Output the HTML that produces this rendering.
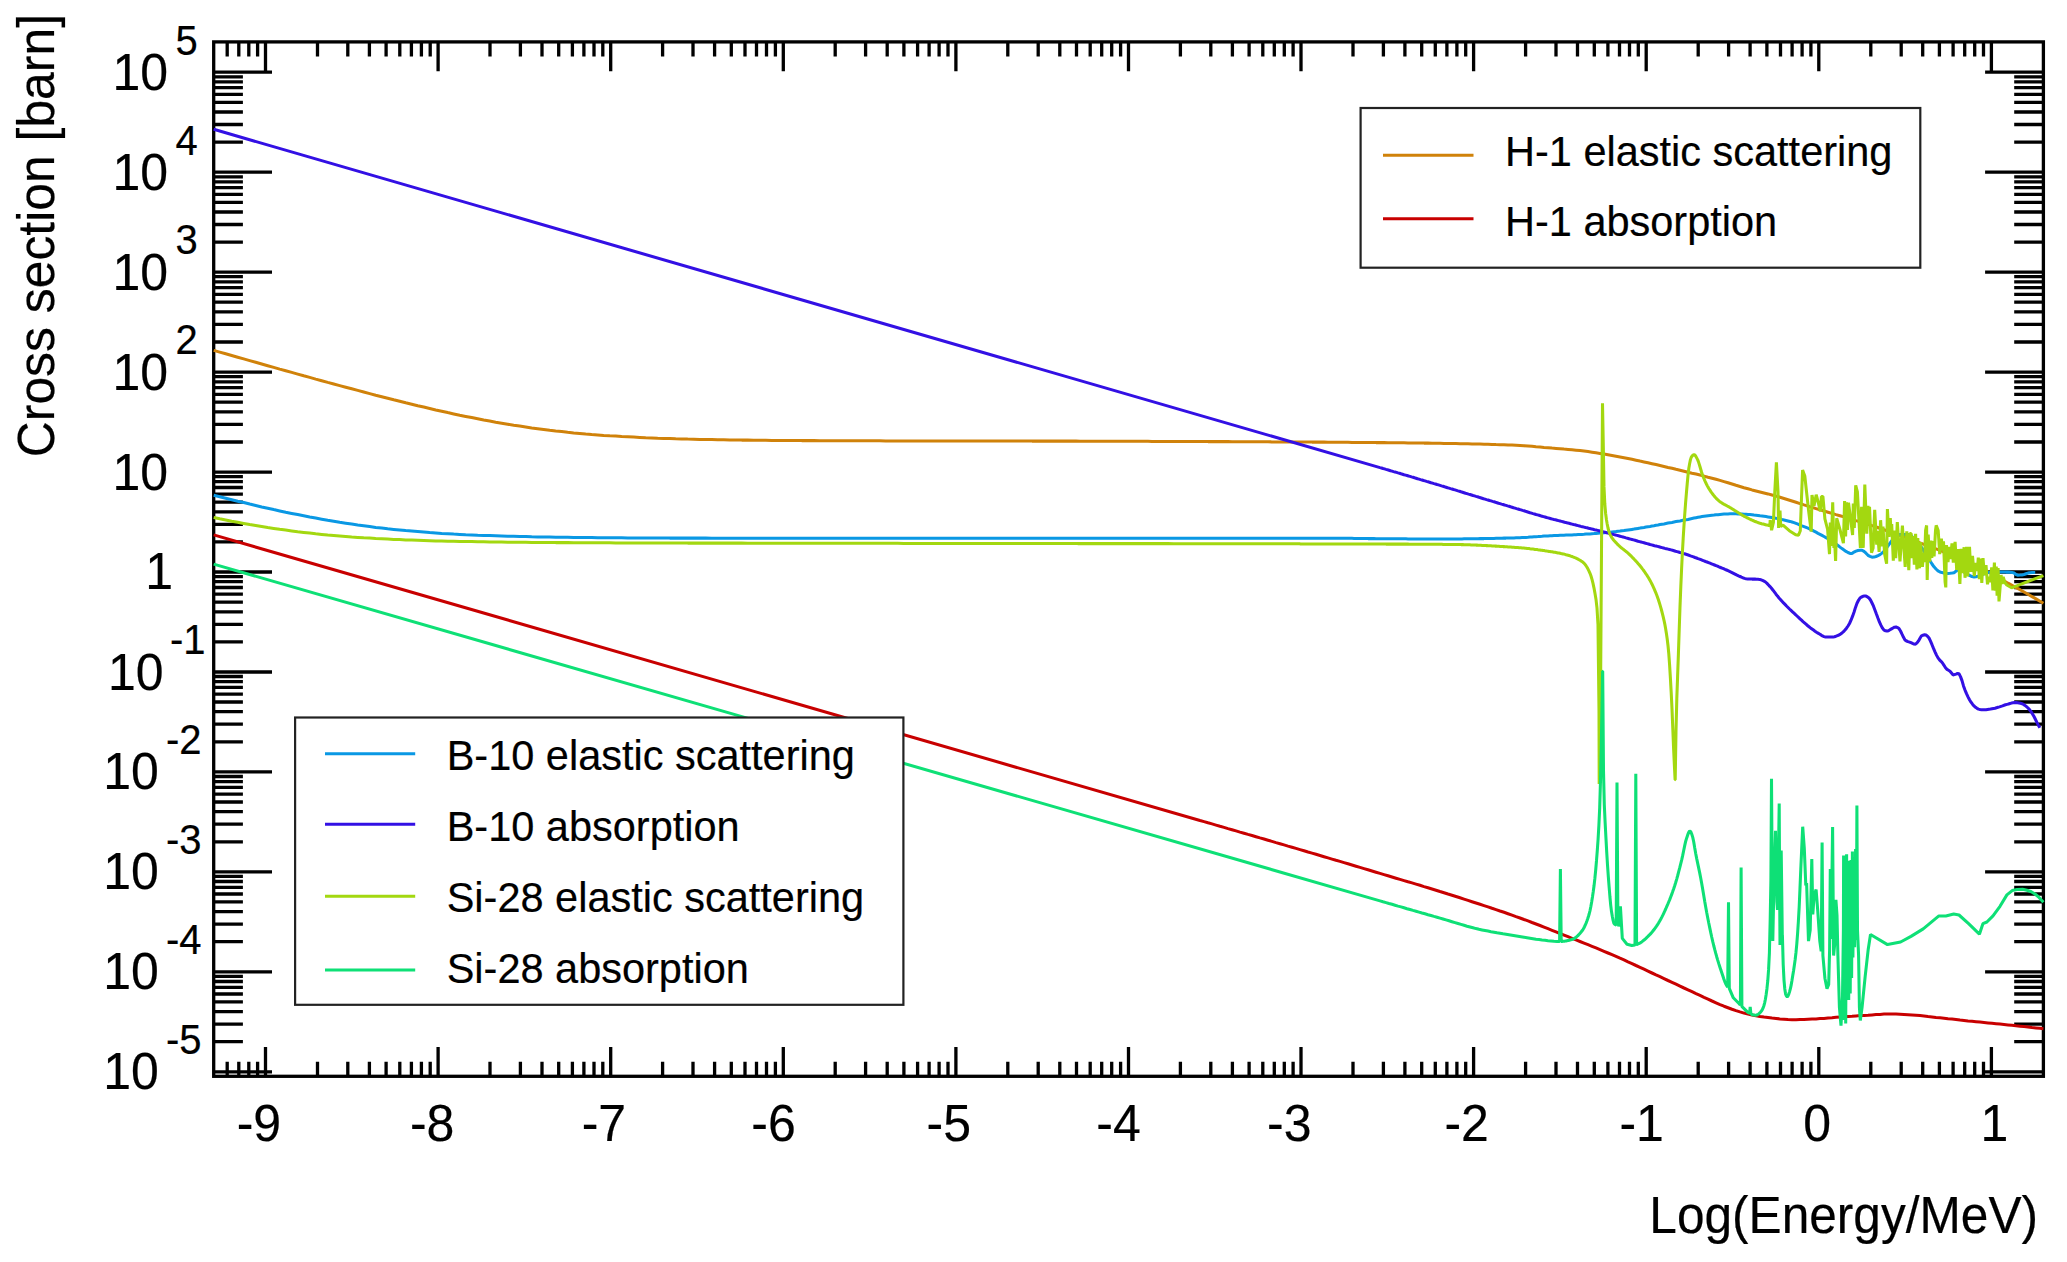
<!DOCTYPE html>
<html lang="en"><head><meta charset="utf-8"><title>Neutron cross sections</title>
<style>html,body{margin:0;padding:0;background:#fff}svg{display:block}</style></head><body>
<svg width="2067" height="1262" viewBox="0 0 2067 1262">
<rect width="2067" height="1262" fill="#fff"/>
<g stroke="#000" stroke-width="3.3" fill="none" stroke-linecap="butt">
<rect x="213.7" y="41.9" width="1829.7" height="1034.4"/>
<path d="M227.2 1076.3v-14.6M227.2 41.9v14.6M238.8 1076.3v-14.6M238.8 41.9v14.6M248.8 1076.3v-14.6M248.8 41.9v14.6M257.6 1076.3v-14.6M257.6 41.9v14.6M265.5 1076.3v-29.4M265.5 41.9v29.4M317.5 1076.3v-14.6M317.5 41.9v14.6M347.8 1076.3v-14.6M347.8 41.9v14.6M369.4 1076.3v-14.6M369.4 41.9v14.6M386.1 1076.3v-14.6M386.1 41.9v14.6M399.8 1076.3v-14.6M399.8 41.9v14.6M411.4 1076.3v-14.6M411.4 41.9v14.6M421.4 1076.3v-14.6M421.4 41.9v14.6M430.2 1076.3v-14.6M430.2 41.9v14.6M438.1 1076.3v-29.4M438.1 41.9v29.4M490.0 1076.3v-14.6M490.0 41.9v14.6M520.4 1076.3v-14.6M520.4 41.9v14.6M542.0 1076.3v-14.6M542.0 41.9v14.6M558.7 1076.3v-14.6M558.7 41.9v14.6M572.4 1076.3v-14.6M572.4 41.9v14.6M583.9 1076.3v-14.6M583.9 41.9v14.6M594.0 1076.3v-14.6M594.0 41.9v14.6M602.8 1076.3v-14.6M602.8 41.9v14.6M610.7 1076.3v-29.4M610.7 41.9v29.4M662.6 1076.3v-14.6M662.6 41.9v14.6M693.0 1076.3v-14.6M693.0 41.9v14.6M714.6 1076.3v-14.6M714.6 41.9v14.6M731.3 1076.3v-14.6M731.3 41.9v14.6M745.0 1076.3v-14.6M745.0 41.9v14.6M756.5 1076.3v-14.6M756.5 41.9v14.6M766.5 1076.3v-14.6M766.5 41.9v14.6M775.4 1076.3v-14.6M775.4 41.9v14.6M783.3 1076.3v-29.4M783.3 41.9v29.4M835.2 1076.3v-14.6M835.2 41.9v14.6M865.6 1076.3v-14.6M865.6 41.9v14.6M887.2 1076.3v-14.6M887.2 41.9v14.6M903.9 1076.3v-14.6M903.9 41.9v14.6M917.6 1076.3v-14.6M917.6 41.9v14.6M929.1 1076.3v-14.6M929.1 41.9v14.6M939.1 1076.3v-14.6M939.1 41.9v14.6M948.0 1076.3v-14.6M948.0 41.9v14.6M955.9 1076.3v-29.4M955.9 41.9v29.4M1007.8 1076.3v-14.6M1007.8 41.9v14.6M1038.2 1076.3v-14.6M1038.2 41.9v14.6M1059.8 1076.3v-14.6M1059.8 41.9v14.6M1076.5 1076.3v-14.6M1076.5 41.9v14.6M1090.2 1076.3v-14.6M1090.2 41.9v14.6M1101.7 1076.3v-14.6M1101.7 41.9v14.6M1111.7 1076.3v-14.6M1111.7 41.9v14.6M1120.6 1076.3v-14.6M1120.6 41.9v14.6M1128.5 1076.3v-29.4M1128.5 41.9v29.4M1180.4 1076.3v-14.6M1180.4 41.9v14.6M1210.8 1076.3v-14.6M1210.8 41.9v14.6M1232.4 1076.3v-14.6M1232.4 41.9v14.6M1249.1 1076.3v-14.6M1249.1 41.9v14.6M1262.8 1076.3v-14.6M1262.8 41.9v14.6M1274.3 1076.3v-14.6M1274.3 41.9v14.6M1284.3 1076.3v-14.6M1284.3 41.9v14.6M1293.1 1076.3v-14.6M1293.1 41.9v14.6M1301.0 1076.3v-29.4M1301.0 41.9v29.4M1353.0 1076.3v-14.6M1353.0 41.9v14.6M1383.4 1076.3v-14.6M1383.4 41.9v14.6M1404.9 1076.3v-14.6M1404.9 41.9v14.6M1421.7 1076.3v-14.6M1421.7 41.9v14.6M1435.3 1076.3v-14.6M1435.3 41.9v14.6M1446.9 1076.3v-14.6M1446.9 41.9v14.6M1456.9 1076.3v-14.6M1456.9 41.9v14.6M1465.7 1076.3v-14.6M1465.7 41.9v14.6M1473.6 1076.3v-29.4M1473.6 41.9v29.4M1525.6 1076.3v-14.6M1525.6 41.9v14.6M1556.0 1076.3v-14.6M1556.0 41.9v14.6M1577.5 1076.3v-14.6M1577.5 41.9v14.6M1594.3 1076.3v-14.6M1594.3 41.9v14.6M1607.9 1076.3v-14.6M1607.9 41.9v14.6M1619.5 1076.3v-14.6M1619.5 41.9v14.6M1629.5 1076.3v-14.6M1629.5 41.9v14.6M1638.3 1076.3v-14.6M1638.3 41.9v14.6M1646.2 1076.3v-29.4M1646.2 41.9v29.4M1698.2 1076.3v-14.6M1698.2 41.9v14.6M1728.6 1076.3v-14.6M1728.6 41.9v14.6M1750.1 1076.3v-14.6M1750.1 41.9v14.6M1766.9 1076.3v-14.6M1766.9 41.9v14.6M1780.5 1076.3v-14.6M1780.5 41.9v14.6M1792.1 1076.3v-14.6M1792.1 41.9v14.6M1802.1 1076.3v-14.6M1802.1 41.9v14.6M1810.9 1076.3v-14.6M1810.9 41.9v14.6M1818.8 1076.3v-29.4M1818.8 41.9v29.4M1870.8 1076.3v-14.6M1870.8 41.9v14.6M1901.2 1076.3v-14.6M1901.2 41.9v14.6M1922.7 1076.3v-14.6M1922.7 41.9v14.6M1939.4 1076.3v-14.6M1939.4 41.9v14.6M1953.1 1076.3v-14.6M1953.1 41.9v14.6M1964.7 1076.3v-14.6M1964.7 41.9v14.6M1974.7 1076.3v-14.6M1974.7 41.9v14.6M1983.5 1076.3v-14.6M1983.5 41.9v14.6M1991.4 1076.3v-29.4M1991.4 41.9v29.4M213.7 1071.8h58.3M2043.4 1071.8h-58.3M213.7 1041.7h29.2M2043.4 1041.7h-29.2M213.7 1024.1h29.2M2043.4 1024.1h-29.2M213.7 1011.6h29.2M2043.4 1011.6h-29.2M213.7 1001.9h29.2M2043.4 1001.9h-29.2M213.7 994.0h29.2M2043.4 994.0h-29.2M213.7 987.3h29.2M2043.4 987.3h-29.2M213.7 981.5h29.2M2043.4 981.5h-29.2M213.7 976.4h29.2M2043.4 976.4h-29.2M213.7 971.8h58.3M2043.4 971.8h-58.3M213.7 941.7h29.2M2043.4 941.7h-29.2M213.7 924.1h29.2M2043.4 924.1h-29.2M213.7 911.6h29.2M2043.4 911.6h-29.2M213.7 901.9h29.2M2043.4 901.9h-29.2M213.7 894.0h29.2M2043.4 894.0h-29.2M213.7 887.3h29.2M2043.4 887.3h-29.2M213.7 881.5h29.2M2043.4 881.5h-29.2M213.7 876.4h29.2M2043.4 876.4h-29.2M213.7 871.9h58.3M2043.4 871.9h-58.3M213.7 841.8h29.2M2043.4 841.8h-29.2M213.7 824.2h29.2M2043.4 824.2h-29.2M213.7 811.7h29.2M2043.4 811.7h-29.2M213.7 802.0h29.2M2043.4 802.0h-29.2M213.7 794.1h29.2M2043.4 794.1h-29.2M213.7 787.4h29.2M2043.4 787.4h-29.2M213.7 781.6h29.2M2043.4 781.6h-29.2M213.7 776.5h29.2M2043.4 776.5h-29.2M213.7 771.9h58.3M2043.4 771.9h-58.3M213.7 741.8h29.2M2043.4 741.8h-29.2M213.7 724.2h29.2M2043.4 724.2h-29.2M213.7 711.7h29.2M2043.4 711.7h-29.2M213.7 702.0h29.2M2043.4 702.0h-29.2M213.7 694.1h29.2M2043.4 694.1h-29.2M213.7 687.4h29.2M2043.4 687.4h-29.2M213.7 681.6h29.2M2043.4 681.6h-29.2M213.7 676.5h29.2M2043.4 676.5h-29.2M213.7 672.0h58.3M2043.4 672.0h-58.3M213.7 641.9h29.2M2043.4 641.9h-29.2M213.7 624.3h29.2M2043.4 624.3h-29.2M213.7 611.8h29.2M2043.4 611.8h-29.2M213.7 602.1h29.2M2043.4 602.1h-29.2M213.7 594.2h29.2M2043.4 594.2h-29.2M213.7 587.5h29.2M2043.4 587.5h-29.2M213.7 581.7h29.2M2043.4 581.7h-29.2M213.7 576.6h29.2M2043.4 576.6h-29.2M213.7 572.0h58.3M2043.4 572.0h-58.3M213.7 541.9h29.2M2043.4 541.9h-29.2M213.7 524.3h29.2M2043.4 524.3h-29.2M213.7 511.8h29.2M2043.4 511.8h-29.2M213.7 502.1h29.2M2043.4 502.1h-29.2M213.7 494.2h29.2M2043.4 494.2h-29.2M213.7 487.5h29.2M2043.4 487.5h-29.2M213.7 481.7h29.2M2043.4 481.7h-29.2M213.7 476.6h29.2M2043.4 476.6h-29.2M213.7 472.1h58.3M2043.4 472.1h-58.3M213.7 442.0h29.2M2043.4 442.0h-29.2M213.7 424.4h29.2M2043.4 424.4h-29.2M213.7 411.9h29.2M2043.4 411.9h-29.2M213.7 402.2h29.2M2043.4 402.2h-29.2M213.7 394.3h29.2M2043.4 394.3h-29.2M213.7 387.6h29.2M2043.4 387.6h-29.2M213.7 381.8h29.2M2043.4 381.8h-29.2M213.7 376.7h29.2M2043.4 376.7h-29.2M213.7 372.1h58.3M2043.4 372.1h-58.3M213.7 342.0h29.2M2043.4 342.0h-29.2M213.7 324.4h29.2M2043.4 324.4h-29.2M213.7 311.9h29.2M2043.4 311.9h-29.2M213.7 302.2h29.2M2043.4 302.2h-29.2M213.7 294.3h29.2M2043.4 294.3h-29.2M213.7 287.6h29.2M2043.4 287.6h-29.2M213.7 281.8h29.2M2043.4 281.8h-29.2M213.7 276.7h29.2M2043.4 276.7h-29.2M213.7 272.1h58.3M2043.4 272.1h-58.3M213.7 242.1h29.2M2043.4 242.1h-29.2M213.7 224.5h29.2M2043.4 224.5h-29.2M213.7 212.0h29.2M2043.4 212.0h-29.2M213.7 202.3h29.2M2043.4 202.3h-29.2M213.7 194.4h29.2M2043.4 194.4h-29.2M213.7 187.7h29.2M2043.4 187.7h-29.2M213.7 181.9h29.2M2043.4 181.9h-29.2M213.7 176.8h29.2M2043.4 176.8h-29.2M213.7 172.2h58.3M2043.4 172.2h-58.3M213.7 142.1h29.2M2043.4 142.1h-29.2M213.7 124.5h29.2M2043.4 124.5h-29.2M213.7 112.0h29.2M2043.4 112.0h-29.2M213.7 102.3h29.2M2043.4 102.3h-29.2M213.7 94.4h29.2M2043.4 94.4h-29.2M213.7 87.7h29.2M2043.4 87.7h-29.2M213.7 81.9h29.2M2043.4 81.9h-29.2M213.7 76.8h29.2M2043.4 76.8h-29.2M213.7 72.2h58.3M2043.4 72.2h-58.3"/>
</g>
<clipPath id="cp"><rect x="212.2" y="41.9" width="1832.7" height="1034.4"/></clipPath>
<g fill="none" stroke-width="3.05" stroke-linejoin="bevel" stroke-linecap="butt" clip-path="url(#cp)">
<path stroke="#d0820a" d="M213.7 350.4L219.7 352.1L225.7 353.8L231.7 355.5L237.7 357.2L243.7 358.9L249.7 360.6L255.7 362.3L261.7 364.0L267.7 365.7L273.7 367.4L279.7 369.1L285.7 370.7L291.7 372.4L297.7 374.1L303.7 375.8L309.7 377.4L315.7 379.1L321.7 380.7L327.7 382.4L333.7 384.0L339.7 385.6L345.7 387.2L351.7 388.8L357.7 390.4L363.7 392.0L369.7 393.6L375.7 395.2L381.7 396.7L387.7 398.2L393.7 399.8L399.7 401.3L405.7 402.8L411.7 404.2L417.7 405.7L423.7 407.1L429.7 408.5L435.7 409.9L441.7 411.2L447.7 412.6L453.7 413.9L459.7 415.2L465.7 416.4L471.7 417.6L477.7 418.8L483.7 420.0L489.7 421.1L495.7 422.2L501.7 423.2L507.7 424.2L513.7 425.2L519.7 426.1L525.7 427.0L531.7 427.9L537.7 428.7L543.7 429.5L549.7 430.3L555.7 431.0L561.7 431.6L567.7 432.3L573.7 432.9L579.7 433.4L585.7 434.0L591.7 434.5L597.7 434.9L603.7 435.4L609.7 435.8L615.7 436.1L621.7 436.5L627.7 436.8L633.7 437.1L639.7 437.4L645.7 437.7L651.7 437.9L657.7 438.2L663.7 438.4L669.7 438.6L675.7 438.8L681.7 438.9L687.7 439.1L693.7 439.2L699.7 439.4L705.7 439.5L711.7 439.6L717.7 439.7L723.7 439.8L729.7 439.9L735.7 440.0L741.7 440.1L747.7 440.1L753.7 440.2L759.7 440.3L765.7 440.3L771.7 440.4L777.7 440.4L783.7 440.5L789.7 440.5L795.7 440.5L801.7 440.6L807.7 440.6L813.7 440.6L819.7 440.7L825.7 440.7L831.7 440.7L837.7 440.7L843.7 440.8L849.7 440.8L855.7 440.8L861.7 440.8L867.7 440.8L873.7 440.8L879.7 440.8L885.7 440.9L891.7 440.9L897.7 440.9L903.7 440.9L909.7 440.9L915.7 440.9L921.7 440.9L927.7 440.9L933.7 440.9L939.7 440.9L945.7 440.9L951.7 440.9L957.7 440.9L963.7 441.0L969.7 441.0L975.7 441.0L981.7 441.0L987.7 441.0L993.7 441.0L999.7 441.0L1000.0 441.0L1004.0 441.0L1008.0 441.0L1012.0 441.0L1016.0 441.0L1020.0 441.0L1024.0 441.0L1028.0 441.0L1032.0 441.1L1036.0 441.1L1040.0 441.1L1044.0 441.1L1048.0 441.1L1052.0 441.1L1056.0 441.1L1060.0 441.1L1064.0 441.1L1068.0 441.1L1072.0 441.1L1076.0 441.1L1080.0 441.2L1084.0 441.2L1088.0 441.2L1092.0 441.2L1096.0 441.2L1100.0 441.2L1104.0 441.2L1108.0 441.2L1112.0 441.2L1116.0 441.2L1120.0 441.3L1124.0 441.3L1128.0 441.3L1132.0 441.3L1136.0 441.3L1140.0 441.3L1144.0 441.3L1148.0 441.3L1152.0 441.4L1156.0 441.4L1160.0 441.4L1164.0 441.4L1168.0 441.4L1172.0 441.4L1176.0 441.4L1180.0 441.4L1184.0 441.5L1188.0 441.5L1192.0 441.5L1196.0 441.5L1200.0 441.5L1204.0 441.5L1208.0 441.6L1212.0 441.6L1216.0 441.6L1220.0 441.6L1224.0 441.6L1228.0 441.6L1232.0 441.7L1236.0 441.7L1240.0 441.7L1244.0 441.7L1248.0 441.7L1252.0 441.8L1256.0 441.8L1260.0 441.8L1264.0 441.8L1268.0 441.8L1272.0 441.9L1276.0 441.9L1280.0 441.9L1284.0 441.9L1288.0 441.9L1292.0 442.0L1296.0 442.0L1300.0 442.0L1304.0 442.0L1308.0 442.0L1312.0 442.1L1316.0 442.1L1320.0 442.1L1324.0 442.1L1328.0 442.2L1332.0 442.2L1336.0 442.2L1340.0 442.3L1344.0 442.3L1348.0 442.3L1352.0 442.4L1356.0 442.4L1360.0 442.4L1364.0 442.5L1368.0 442.5L1372.0 442.5L1376.0 442.6L1380.0 442.6L1384.0 442.6L1388.0 442.7L1392.0 442.7L1396.0 442.8L1400.0 442.8L1404.0 442.8L1408.0 442.9L1412.0 442.9L1416.0 443.0L1420.0 443.0L1424.0 443.1L1428.0 443.1L1432.0 443.2L1436.0 443.3L1440.0 443.3L1444.0 443.4L1448.0 443.5L1452.0 443.5L1456.0 443.6L1460.0 443.7L1464.0 443.8L1468.0 443.8L1472.0 443.9L1476.0 444.0L1480.0 444.1L1484.0 444.2L1488.0 444.3L1492.0 444.4L1496.0 444.6L1500.0 444.7L1504.0 444.8L1508.0 445.0L1512.0 445.1L1516.0 445.3L1520.0 445.5L1524.0 445.7L1528.0 446.0L1532.0 446.3L1536.0 446.7L1540.0 447.0L1544.0 447.4L1548.0 447.7L1552.0 448.1L1556.0 448.4L1560.0 448.7L1564.0 449.1L1568.0 449.4L1572.0 449.8L1576.0 450.2L1580.0 450.6L1584.0 451.1L1588.0 451.6L1592.0 452.2L1596.0 452.8L1600.0 453.4L1604.0 454.1L1608.0 454.8L1612.0 455.5L1616.0 456.2L1620.0 456.9L1624.0 457.7L1628.0 458.5L1632.0 459.3L1636.0 460.2L1640.0 461.1L1644.0 461.9L1648.0 462.8L1652.0 463.7L1656.0 464.6L1660.0 465.5L1664.0 466.4L1668.0 467.4L1672.0 468.3L1676.0 469.3L1680.0 470.2L1684.0 471.2L1688.0 472.2L1692.0 473.2L1696.0 474.1L1700.0 475.1L1704.0 476.1L1708.0 477.2L1712.0 478.2L1716.0 479.3L1720.0 480.4L1724.0 481.6L1728.0 482.8L1732.0 484.0L1736.0 485.3L1740.0 486.5L1744.0 487.7L1748.0 488.8L1752.0 489.9L1756.0 490.9L1760.0 491.9L1764.0 492.9L1768.0 493.9L1772.0 495.0L1776.0 496.1L1780.0 497.3L1784.0 498.5L1788.0 499.7L1792.0 501.0L1796.0 502.3L1800.0 503.6L1804.0 504.9L1808.0 506.1L1812.0 507.4L1816.0 508.6L1820.0 509.8L1824.0 511.0L1828.0 512.2L1832.0 513.4L1836.0 514.6L1840.0 515.7L1844.0 516.9L1848.0 518.1L1852.0 519.3L1856.0 520.6L1860.0 521.8L1864.0 523.1L1868.0 524.3L1872.0 525.6L1876.0 526.9L1880.0 528.3L1884.0 529.7L1888.0 531.1L1892.0 532.5L1896.0 534.0L1900.0 535.5L1904.0 536.9L1908.0 538.4L1912.0 539.9L1916.0 541.4L1920.0 542.9L1924.0 544.4L1928.0 545.9L1932.0 547.4L1936.0 548.9L1940.0 550.4L1944.0 552.0L1948.0 553.7L1952.0 555.4L1956.0 557.0L1960.0 558.7L1964.0 560.5L1968.0 562.3L1972.0 564.1L1976.0 565.9L1980.0 567.8L1984.0 569.8L1988.0 571.8L1992.0 573.9L1996.0 576.2L2000.0 578.5L2004.0 580.9L2008.0 583.2L2012.0 585.4L2016.0 587.6L2020.0 589.7L2024.0 592.0L2028.0 594.3L2032.0 596.6L2036.0 598.9L2040.0 601.3L2043.4 603.3"/>
<path stroke="#c80000" d="M213.7 534.9L1200.0 820.5L1204.0 821.6L1208.0 822.8L1212.0 823.9L1216.0 825.1L1220.0 826.3L1224.0 827.4L1228.0 828.6L1232.0 829.7L1236.0 830.9L1240.0 832.1L1244.0 833.2L1248.0 834.4L1252.0 835.5L1256.0 836.7L1260.0 837.9L1264.0 839.0L1268.0 840.2L1272.0 841.4L1276.0 842.6L1280.0 843.7L1284.0 844.9L1288.0 846.1L1292.0 847.2L1296.0 848.4L1300.0 849.6L1304.0 850.8L1308.0 852.0L1312.0 853.1L1316.0 854.3L1320.0 855.5L1324.0 856.7L1328.0 857.9L1332.0 859.1L1336.0 860.3L1340.0 861.4L1344.0 862.6L1348.0 863.8L1352.0 865.0L1356.0 866.2L1360.0 867.4L1364.0 868.6L1368.0 869.8L1372.0 871.0L1376.0 872.2L1380.0 873.4L1384.0 874.6L1388.0 875.8L1392.0 877.0L1396.0 878.2L1400.0 879.4L1404.0 880.6L1408.0 881.8L1412.0 882.9L1416.0 884.1L1420.0 885.3L1424.0 886.6L1428.0 887.8L1432.0 889.0L1436.0 890.2L1440.0 891.5L1444.0 892.7L1448.0 894.0L1452.0 895.2L1456.0 896.5L1460.0 897.8L1464.0 899.1L1468.0 900.4L1472.0 901.7L1476.0 903.0L1480.0 904.3L1484.0 905.6L1488.0 906.9L1492.0 908.3L1496.0 909.6L1500.0 911.0L1504.0 912.3L1508.0 913.7L1512.0 915.1L1516.0 916.6L1520.0 918.0L1524.0 919.5L1528.0 920.9L1532.0 922.5L1536.0 924.0L1540.0 925.5L1544.0 927.1L1548.0 928.7L1552.0 930.3L1556.0 931.9L1560.0 933.5L1564.0 935.1L1568.0 936.7L1572.0 938.3L1576.0 939.9L1580.0 941.5L1584.0 943.1L1588.0 944.7L1592.0 946.3L1596.0 947.9L1600.0 949.6L1604.0 951.3L1608.0 953.0L1612.0 954.7L1616.0 956.4L1620.0 958.2L1624.0 959.9L1628.0 961.8L1632.0 963.6L1636.0 965.5L1640.0 967.3L1644.0 969.2L1648.0 971.1L1652.0 973.0L1656.0 974.9L1660.0 976.7L1664.0 978.6L1668.0 980.5L1672.0 982.3L1676.0 984.2L1680.0 986.1L1684.0 988.0L1688.0 989.8L1692.0 991.7L1696.0 993.6L1700.0 995.4L1704.0 997.3L1708.0 999.1L1712.0 1001.0L1716.0 1002.8L1720.0 1004.6L1724.0 1006.2L1728.0 1007.7L1732.0 1009.2L1736.0 1010.6L1740.0 1011.9L1744.0 1013.1L1748.0 1014.1L1752.0 1014.9L1756.0 1015.7L1760.0 1016.5L1764.0 1017.1L1768.0 1017.6L1772.0 1018.1L1776.0 1018.5L1780.0 1018.9L1784.0 1019.2L1788.0 1019.5L1792.0 1019.7L1796.0 1019.7L1800.0 1019.6L1804.0 1019.5L1808.0 1019.3L1812.0 1019.1L1816.0 1018.9L1820.0 1018.6L1824.0 1018.4L1828.0 1018.0L1832.0 1017.7L1836.0 1017.3L1840.0 1017.0L1844.0 1016.7L1848.0 1016.4L1852.0 1016.2L1856.0 1015.9L1860.0 1015.6L1864.0 1015.4L1868.0 1015.2L1872.0 1014.9L1876.0 1014.6L1880.0 1014.4L1884.0 1014.1L1888.0 1014.0L1892.0 1014.0L1896.0 1014.1L1900.0 1014.3L1904.0 1014.5L1908.0 1014.7L1912.0 1015.0L1916.0 1015.3L1920.0 1015.6L1924.0 1016.0L1928.0 1016.5L1932.0 1016.9L1936.0 1017.4L1940.0 1017.8L1944.0 1018.2L1948.0 1018.7L1952.0 1019.1L1956.0 1019.5L1960.0 1020.0L1964.0 1020.4L1968.0 1020.9L1972.0 1021.3L1976.0 1021.7L1980.0 1022.1L1984.0 1022.5L1988.0 1022.9L1992.0 1023.3L1996.0 1023.7L2000.0 1024.1L2004.0 1024.5L2008.0 1024.9L2012.0 1025.3L2016.0 1025.8L2020.0 1026.2L2024.0 1026.6L2028.0 1027.0L2032.0 1027.5L2036.0 1027.9L2040.0 1028.3L2043.4 1028.7"/>
<path stroke="#0a98e4" d="M213.7 495.2L219.7 496.7L225.7 498.2L231.7 499.7L237.7 501.2L243.7 502.6L249.7 504.1L255.7 505.5L261.7 506.9L267.7 508.2L273.7 509.6L279.7 510.9L285.7 512.2L291.7 513.4L297.7 514.6L303.7 515.8L309.7 517.0L315.7 518.1L321.7 519.2L327.7 520.3L333.7 521.3L339.7 522.3L345.7 523.2L351.7 524.1L357.7 525.0L363.7 525.8L369.7 526.6L375.7 527.4L381.7 528.1L387.7 528.8L393.7 529.4L399.7 530.0L405.7 530.6L411.7 531.1L417.7 531.6L423.7 532.1L429.7 532.6L435.7 533.0L441.7 533.4L447.7 533.7L453.7 534.1L459.7 534.4L465.7 534.7L471.7 534.9L477.7 535.2L483.7 535.4L489.7 535.6L495.7 535.8L501.7 536.0L507.7 536.2L513.7 536.3L519.7 536.5L525.7 536.6L531.7 536.8L537.7 536.9L543.7 537.0L549.7 537.1L555.7 537.2L561.7 537.3L567.7 537.3L573.7 537.4L579.7 537.5L585.7 537.5L591.7 537.6L597.7 537.7L603.7 537.7L609.7 537.7L615.7 537.8L621.7 537.8L627.7 537.9L633.7 537.9L639.7 537.9L645.7 538.0L651.7 538.0L657.7 538.0L663.7 538.0L669.7 538.1L675.7 538.1L681.7 538.1L687.7 538.1L693.7 538.1L699.7 538.1L705.7 538.1L711.7 538.2L717.7 538.2L723.7 538.2L729.7 538.2L735.7 538.2L741.7 538.2L747.7 538.2L753.7 538.2L759.7 538.2L765.7 538.2L771.7 538.2L777.7 538.2L783.7 538.2L789.7 538.2L795.7 538.3L801.7 538.3L807.7 538.3L813.7 538.3L819.7 538.3L825.7 538.3L831.7 538.3L837.7 538.3L843.7 538.3L849.7 538.3L855.7 538.3L861.7 538.3L867.7 538.3L873.7 538.3L879.7 538.3L885.7 538.3L891.7 538.3L897.7 538.3L903.7 538.3L909.7 538.3L915.7 538.3L921.7 538.3L927.7 538.3L933.7 538.3L939.7 538.3L945.7 538.3L951.7 538.3L957.7 538.3L963.7 538.3L969.7 538.3L975.7 538.3L981.7 538.3L987.7 538.3L993.7 538.3L999.7 538.3L1005.7 538.3L1011.7 538.3L1017.7 538.3L1023.7 538.3L1029.7 538.3L1035.7 538.3L1041.7 538.3L1047.7 538.3L1053.7 538.3L1059.7 538.3L1065.7 538.3L1071.7 538.3L1077.7 538.3L1083.7 538.3L1089.7 538.3L1095.7 538.3L1101.7 538.3L1107.7 538.3L1113.7 538.3L1119.7 538.3L1125.7 538.3L1131.7 538.3L1137.7 538.3L1143.7 538.3L1149.7 538.3L1155.7 538.3L1161.7 538.3L1167.7 538.3L1173.7 538.3L1179.7 538.3L1185.7 538.3L1191.7 538.3L1197.7 538.3L1203.7 538.3L1209.7 538.3L1215.7 538.3L1221.7 538.3L1227.7 538.3L1233.7 538.3L1239.7 538.3L1245.7 538.3L1251.7 538.3L1257.7 538.3L1263.7 538.3L1269.7 538.3L1275.7 538.3L1281.7 538.3L1287.7 538.3L1293.7 538.3L1299.7 538.3L1305.7 538.3L1311.7 538.3L1317.7 538.3L1323.7 538.3L1329.7 538.3L1335.7 538.3L1341.7 538.3L1347.7 538.3L1350.0 538.3L1352.0 538.3L1354.0 538.4L1356.0 538.4L1358.0 538.4L1360.0 538.5L1362.0 538.5L1364.0 538.5L1366.0 538.5L1368.0 538.6L1370.0 538.6L1372.0 538.6L1374.0 538.6L1376.0 538.7L1378.0 538.7L1380.0 538.7L1382.0 538.7L1384.0 538.7L1386.0 538.7L1388.0 538.8L1390.0 538.8L1392.0 538.8L1394.0 538.8L1396.0 538.8L1398.0 538.8L1400.0 538.8L1402.0 538.8L1404.0 538.8L1406.0 538.8L1408.0 538.9L1410.0 538.9L1412.0 538.9L1414.0 538.9L1416.0 538.9L1418.0 538.9L1420.0 538.9L1422.0 538.9L1424.0 538.9L1426.0 538.9L1428.0 538.9L1430.0 538.9L1432.0 538.9L1434.0 538.9L1436.0 538.9L1438.0 538.9L1440.0 538.9L1442.0 538.9L1444.0 538.9L1446.0 538.9L1448.0 538.9L1450.0 538.9L1452.0 538.9L1454.0 538.9L1456.0 538.9L1458.0 538.9L1460.0 538.9L1462.0 538.9L1464.0 538.8L1466.0 538.8L1468.0 538.8L1470.0 538.8L1472.0 538.8L1474.0 538.7L1476.0 538.7L1478.0 538.7L1480.0 538.6L1482.0 538.6L1484.0 538.6L1486.0 538.5L1488.0 538.5L1490.0 538.5L1492.0 538.4L1494.0 538.4L1496.0 538.3L1498.0 538.3L1500.0 538.2L1502.0 538.2L1504.0 538.1L1506.0 538.1L1508.0 538.0L1510.0 538.0L1512.0 537.9L1514.0 537.9L1516.0 537.8L1518.0 537.8L1520.0 537.7L1522.0 537.6L1524.0 537.5L1526.0 537.4L1528.0 537.3L1530.0 537.1L1532.0 537.0L1534.0 536.8L1536.0 536.7L1538.0 536.6L1540.0 536.4L1542.0 536.3L1544.0 536.1L1546.0 536.0L1548.0 535.9L1550.0 535.8L1552.0 535.7L1554.0 535.6L1556.0 535.5L1558.0 535.4L1560.0 535.3L1562.0 535.3L1564.0 535.2L1566.0 535.1L1568.0 535.0L1570.0 534.9L1572.0 534.9L1574.0 534.8L1576.0 534.7L1578.0 534.6L1580.0 534.5L1582.0 534.4L1584.0 534.3L1586.0 534.1L1588.0 534.0L1590.0 533.9L1592.0 533.7L1594.0 533.6L1596.0 533.4L1598.0 533.3L1600.0 533.1L1602.0 532.9L1604.0 532.7L1606.0 532.6L1608.0 532.4L1610.0 532.2L1612.0 532.0L1614.0 531.8L1616.0 531.6L1618.0 531.3L1620.0 531.1L1622.0 530.8L1624.0 530.6L1626.0 530.3L1628.0 530.0L1630.0 529.7L1632.0 529.4L1634.0 529.1L1636.0 528.7L1638.0 528.4L1640.0 528.1L1642.0 527.7L1644.0 527.4L1646.0 527.0L1648.0 526.7L1650.0 526.4L1652.0 526.0L1654.0 525.7L1656.0 525.3L1658.0 525.0L1660.0 524.6L1662.0 524.2L1664.0 523.9L1666.0 523.5L1668.0 523.1L1670.0 522.7L1672.0 522.4L1674.0 522.0L1676.0 521.6L1678.0 521.2L1680.0 520.9L1682.0 520.5L1684.0 520.1L1686.0 519.8L1688.0 519.4L1690.0 518.9L1692.0 518.5L1694.0 518.1L1696.0 517.7L1698.0 517.3L1700.0 516.9L1702.0 516.6L1704.0 516.3L1706.0 516.0L1708.0 515.7L1710.0 515.5L1712.0 515.3L1714.0 515.1L1716.0 514.8L1718.0 514.7L1720.0 514.5L1722.0 514.3L1724.0 514.1L1726.0 514.0L1728.0 513.9L1730.0 513.8L1732.0 513.8L1734.0 513.8L1736.0 513.8L1738.0 513.9L1740.0 514.0L1742.0 514.1L1744.0 514.2L1746.0 514.3L1748.0 514.5L1750.0 514.6L1752.0 514.8L1754.0 515.1L1756.0 515.3L1758.0 515.5L1760.0 515.8L1762.0 516.0L1764.0 516.3L1766.0 516.6L1768.0 516.9L1770.0 517.2L1772.0 517.6L1774.0 517.9L1776.0 518.3L1778.0 518.6L1780.0 519.0L1782.0 519.5L1784.0 519.9L1786.0 520.4L1788.0 520.9L1790.0 521.4L1792.0 522.0L1794.0 522.6L1796.0 523.4L1798.0 524.2L1800.0 525.1L1802.0 525.9L1804.0 526.6L1806.0 527.4L1808.0 528.2L1810.0 529.1L1812.0 530.1L1814.0 531.2L1816.0 532.2L1818.0 533.3L1820.0 534.3L1822.0 535.4L1824.0 536.5L1826.0 537.6L1828.0 538.7L1830.0 539.9L1832.0 541.2L1834.0 542.6L1836.0 544.1L1838.0 545.5L1840.0 547.1L1842.0 548.6L1844.0 550.0L1846.0 551.4L1848.0 552.5L1850.0 553.4L1852.0 553.5L1854.0 552.1L1856.0 551.1L1858.0 550.5L1860.0 550.2L1862.0 550.2L1864.0 551.4L1866.0 553.2L1868.0 555.3L1870.0 556.4L1872.0 557.2L1874.0 557.1L1876.0 556.5L1878.0 555.6L1880.0 554.6L1882.0 553.1L1884.0 551.3L1886.0 548.7L1888.0 545.9L1890.0 543.1L1892.0 540.4L1894.0 538.4L1896.0 536.5L1898.0 535.1L1900.0 534.5L1902.0 534.5L1904.0 534.5L1906.0 534.5L1908.0 534.5L1910.0 535.0L1912.0 536.5L1914.0 538.5L1916.0 540.7L1918.0 543.0L1920.0 545.4L1922.0 548.2L1924.0 551.3L1926.0 554.5L1928.0 557.6L1930.0 560.8L1932.0 564.0L1934.0 566.8L1936.0 569.0L1938.0 570.9L1940.0 572.0L1942.0 572.6L1944.0 573.1L1946.0 573.4L1948.0 573.4L1950.0 573.3L1952.0 573.1L1954.0 572.7L1956.0 571.1L1958.0 569.8L1960.0 570.3L1962.0 571.0L1964.0 572.0L1966.0 573.4L1968.0 574.6L1970.0 575.6L1972.0 576.6L1974.0 577.0L1976.0 576.7L1978.0 576.1L1980.0 575.3L1982.0 574.6L1984.0 573.8L1986.0 572.9L1988.0 572.4L1990.0 572.3L1992.0 572.2L1994.0 572.1L1996.0 572.1L1998.0 572.0L2000.0 572.0L2002.0 572.0L2004.0 572.0L2006.0 572.1L2008.0 572.1L2010.0 572.2L2012.0 572.4L2014.0 573.0L2016.0 574.5L2018.0 575.2L2020.0 575.1L2022.0 574.9L2024.0 574.5L2026.0 573.8L2028.0 573.1L2030.0 572.7L2032.0 572.5L2034.0 572.4L2035.2 572.4"/>
<path stroke="#3310e4" d="M213.7 129.3L1380.0 467.6L1381.5 468.0L1383.0 468.5L1384.5 468.9L1386.0 469.4L1387.5 469.8L1389.0 470.2L1390.5 470.7L1392.0 471.1L1393.5 471.6L1395.0 472.0L1396.5 472.4L1398.0 472.9L1399.5 473.3L1401.0 473.8L1402.5 474.2L1404.0 474.7L1405.5 475.1L1407.0 475.5L1408.5 476.0L1410.0 476.4L1411.5 476.9L1413.0 477.3L1414.5 477.8L1416.0 478.2L1417.5 478.7L1419.0 479.1L1420.5 479.6L1422.0 480.0L1423.5 480.5L1425.0 480.9L1426.5 481.4L1428.0 481.8L1429.5 482.2L1431.0 482.7L1432.5 483.1L1434.0 483.6L1435.5 484.0L1437.0 484.5L1438.5 484.9L1440.0 485.4L1441.5 485.9L1443.0 486.3L1444.5 486.8L1446.0 487.2L1447.5 487.7L1449.0 488.1L1450.5 488.6L1452.0 489.0L1453.5 489.5L1455.0 489.9L1456.5 490.4L1458.0 490.9L1459.5 491.3L1461.0 491.8L1462.5 492.2L1464.0 492.7L1465.5 493.2L1467.0 493.6L1468.5 494.1L1470.0 494.5L1471.5 495.0L1473.0 495.5L1474.5 495.9L1476.0 496.4L1477.5 496.8L1479.0 497.3L1480.5 497.7L1482.0 498.2L1483.5 498.7L1485.0 499.1L1486.5 499.6L1488.0 500.0L1489.5 500.5L1491.0 500.9L1492.5 501.4L1494.0 501.8L1495.5 502.3L1497.0 502.7L1498.5 503.2L1500.0 503.6L1501.5 504.1L1503.0 504.5L1504.5 505.0L1506.0 505.4L1507.5 505.9L1509.0 506.3L1510.5 506.8L1512.0 507.2L1513.5 507.7L1515.0 508.1L1516.5 508.6L1518.0 509.0L1519.5 509.5L1521.0 509.9L1522.5 510.4L1524.0 510.8L1525.5 511.3L1527.0 511.7L1528.5 512.2L1530.0 512.7L1531.5 513.1L1533.0 513.6L1534.5 514.0L1536.0 514.5L1537.5 514.9L1539.0 515.3L1540.5 515.8L1542.0 516.2L1543.5 516.6L1545.0 517.0L1546.5 517.5L1548.0 517.9L1549.5 518.3L1551.0 518.7L1552.5 519.1L1554.0 519.5L1555.5 519.8L1557.0 520.2L1558.5 520.6L1560.0 521.0L1561.5 521.4L1563.0 521.8L1564.5 522.2L1566.0 522.6L1567.5 522.9L1569.0 523.3L1570.5 523.7L1572.0 524.1L1573.5 524.5L1575.0 524.8L1576.5 525.2L1578.0 525.6L1579.5 526.0L1581.0 526.4L1582.5 526.7L1584.0 527.1L1585.5 527.5L1587.0 527.8L1588.5 528.2L1590.0 528.6L1591.5 528.9L1593.0 529.3L1594.5 529.7L1596.0 530.0L1597.5 530.4L1599.0 530.8L1600.5 531.2L1602.0 531.5L1603.5 531.9L1605.0 532.3L1606.5 532.7L1608.0 533.1L1609.5 533.5L1611.0 533.9L1612.5 534.2L1614.0 534.6L1615.5 535.0L1617.0 535.4L1618.5 535.8L1620.0 536.2L1621.5 536.6L1623.0 537.0L1624.5 537.4L1626.0 537.9L1627.5 538.3L1629.0 538.7L1630.5 539.1L1632.0 539.5L1633.5 539.9L1635.0 540.3L1636.5 540.7L1638.0 541.2L1639.5 541.6L1641.0 542.0L1642.5 542.4L1644.0 542.8L1645.5 543.2L1647.0 543.6L1648.5 544.0L1650.0 544.5L1651.5 544.9L1653.0 545.3L1654.5 545.7L1656.0 546.0L1657.5 546.4L1659.0 546.8L1660.5 547.2L1662.0 547.6L1663.5 548.0L1665.0 548.4L1666.5 548.7L1668.0 549.1L1669.5 549.5L1671.0 549.9L1672.5 550.3L1674.0 550.7L1675.5 551.2L1677.0 551.6L1678.5 552.0L1680.0 552.5L1681.5 552.9L1683.0 553.4L1684.5 553.8L1686.0 554.3L1687.5 554.8L1689.0 555.3L1690.5 555.9L1692.0 556.4L1693.5 556.9L1695.0 557.5L1696.5 558.0L1698.0 558.6L1699.5 559.1L1701.0 559.7L1702.5 560.3L1704.0 560.9L1705.5 561.5L1707.0 562.0L1708.5 562.6L1710.0 563.2L1711.5 563.8L1713.0 564.4L1714.5 565.0L1716.0 565.6L1717.5 566.2L1719.0 566.9L1720.5 567.5L1722.0 568.1L1723.5 568.7L1725.0 569.4L1726.5 570.0L1728.0 570.7L1729.5 571.4L1731.0 572.1L1732.5 572.8L1734.0 573.6L1735.5 574.4L1737.0 575.2L1738.5 575.9L1740.0 576.5L1741.5 577.2L1743.0 577.8L1744.5 578.4L1746.0 578.8L1747.5 578.9L1749.0 579.0L1750.5 579.0L1752.0 579.1L1753.5 579.1L1755.0 579.1L1756.5 579.2L1758.0 579.3L1759.5 579.4L1761.0 579.8L1762.5 580.4L1764.0 581.1L1765.5 582.0L1767.0 583.4L1768.5 585.0L1770.0 586.6L1771.5 588.3L1773.0 590.2L1774.5 592.2L1776.0 594.2L1777.5 596.1L1779.0 597.9L1780.5 599.6L1782.0 601.2L1783.5 602.9L1785.0 604.4L1786.5 606.0L1788.0 607.5L1789.5 609.0L1791.0 610.4L1792.5 611.8L1794.0 613.2L1795.5 614.6L1797.0 616.0L1798.5 617.4L1800.0 618.8L1801.5 620.2L1803.0 621.6L1804.5 622.9L1806.0 624.2L1807.5 625.5L1809.0 626.7L1810.5 627.9L1812.0 629.0L1813.5 630.1L1815.0 631.2L1816.5 632.2L1818.0 633.1L1819.5 634.0L1821.0 634.9L1822.5 635.9L1824.0 636.6L1825.5 637.0L1827.0 637.0L1828.5 637.0L1830.0 637.0L1831.5 637.0L1833.0 637.0L1834.5 636.7L1836.0 636.2L1837.5 635.6L1839.0 635.0L1840.5 634.1L1842.0 633.0L1843.5 631.6L1845.0 630.0L1846.5 628.2L1848.0 626.0L1849.5 623.5L1851.0 620.2L1852.5 616.4L1854.0 612.2L1855.5 607.4L1857.0 603.3L1858.5 600.3L1860.0 598.0L1861.5 597.0L1863.0 596.3L1864.5 595.9L1866.0 596.1L1867.5 596.9L1869.0 598.0L1870.5 600.0L1872.0 603.0L1873.5 606.2L1875.0 610.2L1876.5 614.3L1878.0 618.3L1879.5 622.2L1881.0 625.4L1882.5 628.2L1884.0 630.2L1885.5 630.8L1887.0 631.1L1888.5 630.7L1890.0 629.8L1891.5 628.9L1893.0 628.0L1894.5 627.2L1896.0 627.0L1897.5 627.6L1899.0 628.6L1900.5 631.0L1902.0 634.2L1903.5 637.3L1905.0 639.9L1906.5 641.0L1908.0 641.6L1909.5 642.1L1911.0 642.7L1912.5 643.4L1914.0 644.0L1915.5 644.2L1917.0 642.9L1918.5 640.9L1920.0 638.2L1921.5 635.8L1923.0 635.2L1924.5 634.8L1926.0 635.1L1927.5 636.2L1929.0 638.0L1930.5 641.2L1932.0 644.7L1933.5 648.4L1935.0 651.8L1936.5 655.1L1938.0 657.9L1939.5 659.8L1941.0 661.3L1942.5 663.0L1944.0 665.3L1945.5 667.8L1947.0 669.4L1948.5 670.3L1950.0 671.2L1951.5 673.0L1953.0 674.9L1954.5 674.6L1956.0 674.1L1957.5 673.5L1959.0 673.8L1960.5 676.6L1962.0 680.6L1963.5 685.9L1965.0 690.1L1966.5 693.7L1968.0 696.9L1969.5 699.7L1971.0 702.2L1972.5 704.2L1974.0 705.9L1975.5 707.3L1977.0 708.3L1978.5 709.1L1980.0 709.5L1981.5 709.7L1983.0 709.8L1984.5 709.8L1986.0 709.7L1987.5 709.5L1989.0 709.3L1990.5 709.1L1992.0 708.8L1993.5 708.5L1995.0 708.2L1996.5 707.7L1998.0 707.3L1999.5 706.9L2001.0 706.4L2002.5 705.9L2004.0 705.3L2005.5 704.8L2007.0 704.4L2008.5 704.0L2010.0 703.5L2011.5 703.1L2013.0 702.8L2014.5 702.6L2016.0 702.6L2017.5 702.8L2019.0 703.0L2020.5 703.3L2022.0 703.7L2023.5 704.4L2025.0 705.4L2026.5 706.6L2028.0 708.0L2029.5 709.6L2031.0 711.6L2032.5 713.9L2034.0 716.5L2035.5 719.5L2037.0 722.6L2038.5 725.4L2039.9 727.8"/>
<path stroke="#a3d810" d="M213.7 517.5L219.7 518.8L225.7 520.0L231.7 521.2L237.7 522.3L243.7 523.4L249.7 524.5L255.7 525.5L261.7 526.5L267.7 527.5L273.7 528.4L279.7 529.3L285.7 530.1L291.7 530.9L297.7 531.7L303.7 532.4L309.7 533.1L315.7 533.8L321.7 534.4L327.7 535.0L333.7 535.5L339.7 536.0L345.7 536.5L351.7 537.0L357.7 537.4L363.7 537.8L369.7 538.1L375.7 538.5L381.7 538.8L387.7 539.1L393.7 539.4L399.7 539.6L405.7 539.9L411.7 540.1L417.7 540.3L423.7 540.5L429.7 540.7L435.7 540.9L441.7 541.0L447.7 541.2L453.7 541.3L459.7 541.4L465.7 541.5L471.7 541.6L477.7 541.7L483.7 541.8L489.7 541.9L495.7 542.0L501.7 542.1L507.7 542.2L513.7 542.2L519.7 542.3L525.7 542.3L531.7 542.4L537.7 542.4L543.7 542.5L549.7 542.5L555.7 542.6L561.7 542.6L567.7 542.6L573.7 542.7L579.7 542.7L585.7 542.7L591.7 542.8L597.7 542.8L603.7 542.8L609.7 542.8L615.7 542.9L621.7 542.9L627.7 542.9L633.7 542.9L639.7 542.9L645.7 543.0L651.7 543.0L657.7 543.0L663.7 543.0L669.7 543.0L675.7 543.0L681.7 543.0L687.7 543.1L693.7 543.1L699.7 543.1L705.7 543.1L711.7 543.1L717.7 543.1L723.7 543.1L729.7 543.1L735.7 543.1L741.7 543.1L747.7 543.2L753.7 543.2L759.7 543.2L765.7 543.2L771.7 543.2L777.7 543.2L783.7 543.2L789.7 543.2L795.7 543.2L801.7 543.2L807.7 543.2L813.7 543.2L819.7 543.3L825.7 543.3L831.7 543.3L837.7 543.3L843.7 543.3L849.7 543.3L855.7 543.3L861.7 543.3L867.7 543.3L873.7 543.3L879.7 543.3L885.7 543.3L891.7 543.3L897.7 543.3L903.7 543.4L909.7 543.4L915.7 543.4L921.7 543.4L927.7 543.4L933.7 543.4L939.7 543.4L945.7 543.4L951.7 543.4L957.7 543.4L963.7 543.4L969.7 543.4L975.7 543.4L981.7 543.4L987.7 543.5L993.7 543.5L999.7 543.5L1005.7 543.5L1011.7 543.5L1017.7 543.5L1023.7 543.5L1029.7 543.5L1035.7 543.5L1041.7 543.5L1047.7 543.5L1053.7 543.5L1059.7 543.5L1065.7 543.5L1071.7 543.5L1077.7 543.6L1083.7 543.6L1089.7 543.6L1095.7 543.6L1101.7 543.6L1107.7 543.6L1113.7 543.6L1119.7 543.6L1125.7 543.6L1131.7 543.6L1137.7 543.6L1143.7 543.6L1149.7 543.6L1155.7 543.6L1161.7 543.6L1167.7 543.6L1173.7 543.7L1179.7 543.7L1185.7 543.7L1191.7 543.7L1197.7 543.7L1203.7 543.7L1209.7 543.7L1215.7 543.7L1221.7 543.7L1227.7 543.7L1233.7 543.7L1239.7 543.7L1245.7 543.7L1251.7 543.7L1257.7 543.7L1263.7 543.8L1269.7 543.8L1275.7 543.8L1281.7 543.8L1287.7 543.8L1293.7 543.8L1299.7 543.8L1300.0 543.9L1301.0 543.9L1302.0 543.9L1303.0 543.9L1304.0 543.9L1305.0 543.9L1306.0 543.9L1307.0 543.9L1308.0 543.9L1309.0 543.9L1310.0 543.9L1311.0 543.9L1312.0 543.9L1313.0 543.9L1314.0 543.9L1315.0 543.9L1316.0 543.9L1317.0 543.9L1318.0 543.9L1319.0 543.9L1320.0 543.9L1321.0 543.9L1322.0 543.9L1323.0 543.9L1324.0 543.9L1325.0 543.9L1326.0 543.9L1327.0 543.9L1328.0 543.9L1329.0 543.9L1330.0 543.9L1331.0 543.9L1332.0 543.9L1333.0 543.9L1334.0 543.9L1335.0 543.9L1336.0 543.9L1337.0 543.9L1338.0 543.9L1339.0 543.9L1340.0 543.9L1341.0 543.9L1342.0 543.9L1343.0 543.9L1344.0 543.9L1345.0 543.9L1346.0 543.9L1347.0 543.9L1348.0 543.9L1349.0 543.9L1350.0 543.9L1351.0 543.9L1352.0 544.0L1353.0 544.0L1354.0 544.0L1355.0 544.0L1356.0 544.0L1357.0 544.0L1358.0 544.0L1359.0 544.0L1360.0 544.0L1361.0 544.0L1362.0 544.0L1363.0 544.0L1364.0 544.0L1365.0 544.0L1366.0 544.0L1367.0 544.0L1368.0 544.0L1369.0 544.0L1370.0 544.0L1371.0 544.0L1372.0 544.0L1373.0 544.0L1374.0 544.0L1375.0 544.0L1376.0 544.0L1377.0 544.0L1378.0 544.0L1379.0 544.0L1380.0 544.0L1381.0 544.0L1382.0 544.0L1383.0 544.0L1384.0 544.0L1385.0 544.0L1386.0 544.1L1387.0 544.1L1388.0 544.1L1389.0 544.1L1390.0 544.1L1391.0 544.1L1392.0 544.1L1393.0 544.1L1394.0 544.1L1395.0 544.1L1396.0 544.1L1397.0 544.1L1398.0 544.1L1399.0 544.1L1400.0 544.1L1401.0 544.1L1402.0 544.1L1403.0 544.1L1404.0 544.1L1405.0 544.1L1406.0 544.1L1407.0 544.1L1408.0 544.1L1409.0 544.2L1410.0 544.2L1411.0 544.2L1412.0 544.2L1413.0 544.2L1414.0 544.2L1415.0 544.2L1416.0 544.2L1417.0 544.2L1418.0 544.2L1419.0 544.2L1420.0 544.2L1421.0 544.2L1422.0 544.2L1423.0 544.2L1424.0 544.2L1425.0 544.2L1426.0 544.2L1427.0 544.3L1428.0 544.3L1429.0 544.3L1430.0 544.3L1431.0 544.3L1432.0 544.3L1433.0 544.3L1434.0 544.3L1435.0 544.3L1436.0 544.3L1437.0 544.3L1438.0 544.3L1439.0 544.3L1440.0 544.3L1441.0 544.3L1442.0 544.3L1443.0 544.4L1444.0 544.4L1445.0 544.4L1446.0 544.4L1447.0 544.4L1448.0 544.4L1449.0 544.4L1450.0 544.4L1451.0 544.4L1452.0 544.4L1453.0 544.4L1454.0 544.4L1455.0 544.5L1456.0 544.5L1457.0 544.5L1458.0 544.5L1459.0 544.5L1460.0 544.5L1461.0 544.6L1462.0 544.6L1463.0 544.6L1464.0 544.7L1465.0 544.7L1466.0 544.7L1467.0 544.7L1468.0 544.8L1469.0 544.8L1470.0 544.8L1471.0 544.9L1472.0 544.9L1473.0 545.0L1474.0 545.0L1475.0 545.0L1476.0 545.1L1477.0 545.1L1478.0 545.2L1479.0 545.2L1480.0 545.3L1481.0 545.3L1482.0 545.4L1483.0 545.4L1484.0 545.5L1485.0 545.5L1486.0 545.6L1487.0 545.6L1488.0 545.7L1489.0 545.7L1490.0 545.8L1491.0 545.8L1492.0 545.9L1493.0 546.0L1494.0 546.0L1495.0 546.1L1496.0 546.1L1497.0 546.2L1498.0 546.3L1499.0 546.3L1500.0 546.4L1501.0 546.4L1502.0 546.5L1503.0 546.6L1504.0 546.6L1505.0 546.7L1506.0 546.8L1507.0 546.8L1508.0 546.9L1509.0 547.0L1510.0 547.0L1511.0 547.1L1512.0 547.2L1513.0 547.2L1514.0 547.3L1515.0 547.4L1516.0 547.5L1517.0 547.5L1518.0 547.6L1519.0 547.7L1520.0 547.8L1521.0 547.8L1522.0 547.9L1523.0 548.0L1524.0 548.1L1525.0 548.2L1526.0 548.3L1527.0 548.4L1528.0 548.5L1529.0 548.6L1530.0 548.8L1531.0 548.9L1532.0 549.0L1533.0 549.1L1534.0 549.2L1535.0 549.4L1536.0 549.5L1537.0 549.6L1538.0 549.8L1539.0 549.9L1540.0 550.0L1541.0 550.2L1542.0 550.3L1543.0 550.5L1544.0 550.6L1545.0 550.8L1546.0 550.9L1547.0 551.1L1548.0 551.2L1549.0 551.4L1550.0 551.5L1551.0 551.7L1552.0 551.8L1553.0 552.0L1554.0 552.2L1555.0 552.3L1556.0 552.5L1557.0 552.7L1558.0 552.9L1559.0 553.0L1560.0 553.2L1561.0 553.5L1562.0 553.7L1563.0 553.9L1564.0 554.1L1565.0 554.4L1566.0 554.7L1567.0 554.9L1568.0 555.2L1569.0 555.5L1570.0 555.8L1571.0 556.2L1572.0 556.5L1573.0 556.9L1574.0 557.3L1575.0 557.7L1576.0 558.1L1577.0 558.6L1578.0 559.1L1579.0 559.7L1580.0 560.3L1581.0 560.9L1582.0 561.6L1583.0 562.3L1584.0 563.2L1585.0 564.3L1586.0 565.7L1587.0 567.3L1588.0 569.1L1589.0 571.1L1590.0 573.3L1591.0 576.0L1592.0 579.4L1593.0 583.4L1594.0 588.1L1595.0 593.6L1596.0 599.4L1597.0 608.2L1598.0 624.9L1599.0 711.6L1599.2 784.0L1600.5 700.0L1601.7 520.0L1602.5 403.3L1603.2 440.0L1604.0 486.9L1604.8 503.7L1605.6 513.2L1606.4 519.4L1607.2 524.1L1608.0 528.0L1608.8 531.0L1609.6 533.3L1610.4 535.1L1611.2 536.6L1612.0 537.8L1612.8 539.0L1613.6 540.0L1614.4 540.9L1615.2 541.8L1616.0 542.7L1616.8 543.5L1617.6 544.4L1618.4 545.2L1619.2 545.9L1620.0 546.6L1620.8 547.3L1621.6 548.0L1622.4 548.6L1623.2 549.2L1624.0 549.9L1624.8 550.5L1625.6 551.1L1626.4 551.8L1627.2 552.4L1628.0 553.1L1628.8 553.8L1629.6 554.6L1630.4 555.4L1631.2 556.2L1632.0 557.0L1632.8 557.8L1633.6 558.6L1634.4 559.5L1635.2 560.3L1636.0 561.2L1636.8 562.1L1637.6 563.0L1638.4 563.9L1639.2 564.8L1640.0 565.8L1640.8 566.8L1641.6 567.8L1642.4 568.9L1643.2 569.9L1644.0 571.0L1644.8 572.2L1645.6 573.3L1646.4 574.5L1647.2 575.7L1648.0 577.0L1648.8 578.3L1649.6 579.7L1650.4 581.1L1651.2 582.6L1652.0 584.2L1652.8 585.9L1653.6 587.6L1654.4 589.4L1655.2 591.3L1656.0 593.2L1656.8 595.3L1657.6 597.5L1658.4 599.8L1659.2 602.3L1660.0 604.9L1660.8 607.6L1661.6 610.5L1662.4 613.6L1663.2 616.8L1664.0 620.3L1664.8 624.1L1665.6 628.5L1666.4 633.4L1667.2 639.0L1668.0 645.5L1668.8 653.8L1669.6 665.0L1670.4 678.1L1671.2 692.6L1672.0 709.0L1672.8 728.8L1673.6 748.5L1674.4 765.7L1675.1 779.6L1675.2 779.6L1676.0 731.3L1676.8 698.9L1677.6 676.6L1678.4 654.1L1679.2 629.9L1680.0 606.8L1680.8 586.9L1681.6 568.8L1682.4 552.5L1683.2 538.1L1684.0 525.3L1684.8 513.5L1685.6 502.9L1686.4 493.2L1687.2 484.0L1688.0 475.4L1688.8 468.5L1689.6 463.8L1690.4 459.9L1691.2 457.4L1692.0 456.2L1692.8 455.2L1693.6 454.7L1694.4 454.7L1695.2 455.4L1696.0 456.6L1696.8 458.1L1697.6 459.6L1698.4 461.6L1699.2 464.1L1700.0 466.8L1700.8 469.5L1701.6 472.2L1702.4 474.7L1703.2 476.8L1704.0 478.7L1704.8 480.6L1705.6 482.3L1706.4 484.0L1707.2 485.6L1708.0 487.1L1708.8 488.5L1709.6 489.7L1710.4 490.9L1711.2 492.1L1712.0 493.2L1712.8 494.3L1713.6 495.3L1714.4 496.2L1715.2 497.2L1716.0 498.1L1716.8 498.9L1717.6 499.7L1718.4 500.4L1719.2 501.1L1720.0 501.7L1720.8 502.3L1721.6 502.8L1722.4 503.4L1723.2 503.8L1724.0 504.3L1724.8 504.7L1725.6 505.1L1726.4 505.5L1727.2 506.0L1728.0 506.4L1728.8 506.8L1729.6 507.3L1730.4 507.7L1731.2 508.2L1732.0 508.7L1732.8 509.2L1733.6 509.7L1734.4 510.3L1735.2 510.8L1736.0 511.3L1736.8 511.8L1737.6 512.3L1738.4 512.8L1739.2 513.3L1740.0 513.8L1740.8 514.3L1741.6 514.8L1742.4 515.3L1743.2 515.7L1744.0 516.1L1744.8 516.6L1745.6 517.0L1746.4 517.4L1747.2 517.8L1748.0 518.2L1748.8 518.6L1749.6 519.0L1750.4 519.4L1751.2 519.8L1752.0 520.1L1752.8 520.5L1753.6 520.8L1754.4 521.2L1755.2 521.5L1756.0 521.8L1756.8 522.1L1757.6 522.4L1758.4 522.7L1759.2 522.9L1760.0 523.2L1760.8 523.4L1761.6 523.7L1762.4 523.9L1763.2 524.1L1764.0 524.3L1764.8 524.5L1765.6 524.7L1766.4 524.9L1767.2 525.1L1768.0 525.2L1768.8 525.4L1769.6 525.5L1769.9 525.6L1770.2 520.0L1771.6 530.2L1773.4 522.5L1774.8 491.5L1776.4 462.3L1778.0 491.5L1778.6 527.9L1780.0 510.6L1780.7 526.5L1783.0 525.2L1789.3 530.7L1795.7 534.8L1798.5 535.2L1800.3 530.7L1801.4 500.6L1802.6 470.0L1804.8 476.0L1806.7 493.3L1808.5 509.7L1811.2 531.6L1812.0 495.1L1814.0 506.0L1816.2 494.7L1818.5 503.3L1820.3 511.5L1821.4 496.5L1822.9 496.5L1824.9 518.8L1827.6 529.5L1829.5 554.2L1830.3 522.5L1831.3 546.0L1832.7 502.3L1833.9 547.9L1834.6 540.0L1835.6 561.0L1836.7 518.2L1840.2 530.5L1843.4 543.1L1844.6 501.1L1845.6 536.5L1846.6 502.3L1847.5 530.0L1848.5 502.7L1851.0 522.0L1852.6 535.0L1853.3 503.5L1854.3 528.0L1855.7 485.3L1857.4 492.0L1860.4 547.9L1861.6 506.7L1863.2 547.9L1864.8 484.5L1866.8 533.6L1868.0 505.9L1868.8 520.0L1869.5 506.7L1871.5 552.7L1873.1 548.0L1874.7 509.9L1876.7 544.7L1877.6 531.0L1879.1 551.9L1880.6 520.2L1882.2 546.5L1883.0 526.5L1884.6 554.0L1886.6 563.7L1887.4 509.1L1889.0 537.0L1890.3 518.2L1891.0 532.0L1891.7 524.1L1893.3 560.6L1894.5 530.5L1895.7 558.2L1897.3 522.1L1900.0 561.4L1902.4 525.7L1905.2 566.9L1906.8 531.3L1908.8 570.1L1910.0 533.6L1911.2 533.5L1912.2 558.3L1913.1 536.0L1914.3 564.7L1915.6 533.7L1916.9 569.5L1917.8 538.0L1919.5 568.3L1920.6 542.1L1922.4 566.8L1923.6 552.9L1924.5 562.1L1925.6 530.2L1926.6 525.4L1927.2 579.9L1928.2 534.6L1929.7 561.7L1930.9 540.6L1931.8 557.9L1932.8 541.1L1934.1 556.3L1935.5 530.5L1936.2 525.4L1938.2 530.5L1939.7 554.2L1941.4 538.6L1942.5 550.3L1943.5 541.2L1945.1 582.0L1945.8 587.4L1946.4 545.1L1948.0 562.2L1949.4 546.9L1950.5 559.2L1952.0 543.4L1953.3 562.7L1955.1 541.9L1956.7 570.0L1958.2 549.0L1959.9 584.0L1961.2 548.7L1962.8 573.2L1964.1 547.2L1965.0 577.8L1966.6 546.9L1967.7 576.3L1969.5 546.9L1970.8 571.8L1972.5 555.9L1974.3 576.2L1975.5 562.9L1977.3 570.8L1978.3 557.6L1979.3 579.1L1980.7 558.5L1981.8 583.0L1983.0 558.0L1984.4 575.2L1986.0 565.0L1987.5 584.4L1988.3 576.8L1990.0 582.0L1991.7 567.4L1992.9 590.3L1994.4 562.5L1995.3 590.8L1996.3 566.6L1997.1 595.8L1998.1 568.0L1999.0 601.5L2001.1 575.0L2002.0 583.9L2003.2 576.8L2004.8 582.5L2006.8 585.0L2011.6 587.8L2043.4 575.6"/>
<path stroke="#0ee076" d="M213.7 564.1L1380.0 900.9L1383.0 901.8L1386.0 902.6L1389.0 903.5L1392.0 904.3L1395.0 905.2L1398.0 906.1L1401.0 906.9L1404.0 907.8L1407.0 908.7L1410.0 909.5L1413.0 910.4L1416.0 911.2L1419.0 912.1L1422.0 913.0L1425.0 913.8L1428.0 914.7L1431.0 915.5L1434.0 916.4L1437.0 917.2L1440.0 918.1L1443.0 919.0L1446.0 919.9L1449.0 920.8L1452.0 921.7L1455.0 922.6L1458.0 923.5L1461.0 924.4L1464.0 925.3L1467.0 926.2L1470.0 927.0L1473.0 927.8L1476.0 928.6L1479.0 929.3L1482.0 929.9L1485.0 930.5L1488.0 931.1L1491.0 931.7L1494.0 932.2L1497.0 932.8L1500.0 933.3L1503.0 933.8L1506.0 934.2L1509.0 934.7L1512.0 935.2L1515.0 935.7L1518.0 936.2L1521.0 936.7L1524.0 937.2L1527.0 937.7L1530.0 938.2L1533.0 938.7L1536.0 939.2L1539.0 939.6L1542.0 940.0L1545.0 940.3L1548.0 940.7L1551.0 941.0L1554.0 941.3L1557.0 941.4L1559.6 941.4L1560.4 868.9L1561.2 941.4L1561.3 941.4L1562.1 941.4L1562.9 941.3L1563.7 941.3L1564.5 941.2L1565.3 941.1L1566.1 941.0L1566.9 940.8L1567.7 940.6L1568.5 940.4L1569.3 940.2L1570.1 940.0L1570.9 939.8L1571.7 939.6L1572.5 939.3L1573.3 939.0L1574.1 938.6L1574.9 938.1L1575.7 937.6L1576.5 936.9L1577.3 936.2L1578.1 935.5L1578.9 934.6L1579.7 933.7L1580.5 932.8L1581.3 931.8L1582.1 930.8L1582.9 929.6L1583.7 928.3L1584.5 926.7L1585.3 925.0L1586.1 923.1L1586.9 921.0L1587.7 918.7L1588.5 916.2L1589.3 913.5L1590.1 910.3L1590.9 906.3L1591.7 901.8L1592.5 896.8L1593.3 891.3L1594.1 885.3L1594.9 878.2L1595.7 870.0L1596.5 860.7L1597.3 850.4L1598.1 839.0L1598.9 825.2L1599.7 807.6L1600.5 780.6L1601.3 744.7L1602.1 702.4L1602.6 671.3L1602.7 671.3L1603.5 771.1L1604.3 804.7L1605.1 822.0L1605.9 837.2L1606.7 851.8L1607.5 864.8L1608.3 876.3L1609.1 886.7L1609.9 896.5L1610.7 905.1L1611.5 911.6L1612.3 916.3L1613.1 920.4L1613.9 923.3L1614.7 924.3L1615.5 924.8L1616.2 925.0L1617.0 782.6L1617.8 905.0L1618.7 926.5L1620.4 906.3L1622.3 938.4L1627.0 944.3L1631.8 945.5L1635.0 945.0L1635.8 773.8L1636.6 944.5L1636.7 944.5L1637.7 944.1L1638.7 943.7L1639.7 943.2L1640.7 942.6L1641.7 941.9L1642.7 941.1L1643.7 940.3L1644.7 939.5L1645.7 938.6L1646.7 937.6L1647.7 936.7L1648.7 935.7L1649.7 934.7L1650.7 933.6L1651.7 932.5L1652.7 931.3L1653.7 930.0L1654.7 928.7L1655.7 927.3L1656.7 925.9L1657.7 924.4L1658.7 922.8L1659.7 921.1L1660.7 919.3L1661.7 917.4L1662.7 915.4L1663.7 913.3L1664.7 911.2L1665.7 909.0L1666.7 906.7L1667.7 904.4L1668.7 902.0L1669.7 899.6L1670.7 897.0L1671.7 894.4L1672.7 891.6L1673.7 888.7L1674.7 885.7L1675.7 882.5L1676.7 879.1L1677.7 875.5L1678.7 871.7L1679.7 867.9L1680.7 863.9L1681.7 859.9L1682.7 855.4L1683.7 850.5L1684.7 845.6L1685.7 841.2L1686.7 837.9L1687.7 834.9L1688.7 832.4L1689.7 831.0L1690.7 831.5L1691.7 834.0L1692.7 837.1L1693.7 841.8L1694.7 847.7L1695.7 853.5L1696.7 858.6L1697.7 863.4L1698.7 868.1L1699.7 872.9L1700.7 878.0L1701.7 883.5L1702.7 889.2L1703.7 895.2L1704.7 901.2L1705.7 907.0L1706.7 912.5L1707.7 917.7L1708.7 922.7L1709.7 927.6L1710.7 932.4L1711.7 937.0L1712.7 941.4L1713.7 945.5L1714.7 949.4L1715.7 953.2L1716.7 956.7L1717.7 960.1L1718.7 963.4L1719.7 966.5L1720.7 969.6L1721.7 972.6L1722.7 975.6L1723.7 978.6L1724.7 981.3L1725.7 983.7L1726.7 985.6L1727.7 987.0L1728.5 902.2L1729.3 988.3L1733.3 997.8L1739.2 1003.8L1740.4 1005.0L1741.1 867.5L1741.9 1006.5L1742.8 1007.3L1747.6 1012.1L1749.6 1013.3L1750.2 1006.9L1750.9 1014.0L1751.0 1014.0L1751.8 1014.5L1752.6 1014.8L1753.4 1015.0L1754.2 1015.1L1755.0 1015.2L1755.8 1015.2L1756.6 1015.1L1757.4 1014.8L1758.2 1014.3L1759.0 1013.7L1759.8 1012.9L1760.6 1012.0L1761.4 1011.0L1762.2 1009.9L1763.0 1008.2L1763.8 1006.0L1764.6 1003.1L1765.4 999.3L1766.2 994.3L1767.0 988.2L1767.8 980.5L1768.6 969.4L1769.4 953.0L1770.2 919.2L1770.9 880.0L1771.5 778.7L1772.3 900.0L1772.8 941.0L1774.0 880.0L1775.5 830.8L1776.9 902.0L1777.5 910.0L1778.4 860.0L1779.2 803.4L1779.7 900.0L1780.0 945.0L1780.6 890.0L1781.2 850.4L1782.3 935.0L1782.4 935.0L1783.2 964.5L1784.0 980.1L1784.8 989.0L1785.6 994.1L1786.4 996.0L1787.2 996.8L1788.0 996.0L1788.8 994.1L1789.6 991.6L1790.4 988.7L1791.2 984.9L1792.0 980.3L1792.8 975.3L1793.6 970.4L1794.4 965.1L1795.2 959.2L1796.0 952.4L1796.8 943.8L1797.6 933.3L1798.4 921.0L1799.2 906.6L1800.0 888.1L1800.8 869.0L1801.6 851.1L1802.4 833.3L1802.7 826.7L1804.3 848.4L1805.8 885.5L1806.6 883.0L1808.5 941.1L1810.2 930.0L1811.8 859.1L1812.8 914.3L1814.2 895.0L1816.1 889.6L1817.7 910.2L1819.8 941.1L1821.2 951.4L1822.1 842.6L1822.9 955.6L1824.9 978.2L1827.0 988.6L1828.7 984.4L1829.6 950.0L1830.3 869.0L1831.1 939.0L1832.6 827.1L1833.6 955.6L1834.6 945.0L1835.9 899.9L1837.0 915.0L1837.9 955.6L1839.4 1007.1L1841.0 1025.7L1842.5 996.8L1843.4 930.0L1843.6 855.4L1844.4 1020.1L1845.2 863.3L1845.7 1023.6L1846.6 854.3L1847.2 994.6L1848.0 869.1L1848.7 1000.1L1849.2 860.7L1850.2 993.5L1851.1 860.1L1851.6 978.0L1852.4 851.4L1852.9 957.5L1853.6 857.0L1854.6 947.3L1855.6 849.0L1856.4 940.0L1856.9 805.5L1857.5 930.0L1858.6 955.6L1859.4 1007.1L1860.3 1020.5L1862.1 1007.1L1865.2 976.2L1868.2 949.4L1870.5 934.5L1887.5 944.6L1900.6 942.0L1911.0 936.4L1923.2 928.9L1938.9 915.9L1945.9 915.9L1953.7 914.1L1959.0 915.0L1968.6 923.7L1979.4 934.2L1982.9 923.7L1986.9 922.0L1993.0 915.9L2000.0 906.3L2006.9 894.9L2012.2 890.6L2017.0 889.6L2022.6 889.3L2027.0 890.2L2031.3 891.8L2035.0 894.0L2038.3 896.7L2043.4 902.2"/>
</g>
<rect x="1360.6" y="108.0" width="559.7" height="159.7" fill="#fff" stroke="#222" stroke-width="2.2"/>
<path d="M1383 155.3H1473.5" stroke="#d0820a" stroke-width="3" fill="none"/>
<g font-family="'Liberation Sans', Arial, Helvetica, sans-serif" fill="#000" stroke="#000" stroke-width="0.2"><text transform="translate(1505.0 166.0) scale(1 1.04)" font-size="41.5">H-1 elastic scattering</text></g>
<path d="M1383 218.8H1473.5" stroke="#c80000" stroke-width="3" fill="none"/>
<g font-family="'Liberation Sans', Arial, Helvetica, sans-serif" fill="#000" stroke="#000" stroke-width="0.2"><text transform="translate(1505.0 236.4) scale(1 1.04)" font-size="41.5">H-1 absorption</text></g>
<rect x="295.1" y="717.5" width="608.3" height="287.3" fill="#fff" stroke="#222" stroke-width="2.2"/>
<path d="M325 753.7H415.2" stroke="#0a98e4" stroke-width="3" fill="none"/>
<g font-family="'Liberation Sans', Arial, Helvetica, sans-serif" fill="#000" stroke="#000" stroke-width="0.2"><text transform="translate(446.7 769.7) scale(1 1.04)" font-size="41.5">B-10 elastic scattering</text></g>
<path d="M325 824.3H415.2" stroke="#3310e4" stroke-width="3" fill="none"/>
<g font-family="'Liberation Sans', Arial, Helvetica, sans-serif" fill="#000" stroke="#000" stroke-width="0.2"><text transform="translate(446.7 840.9) scale(1 1.04)" font-size="41.5">B-10 absorption</text></g>
<path d="M325 896.3H415.2" stroke="#a3d810" stroke-width="3" fill="none"/>
<g font-family="'Liberation Sans', Arial, Helvetica, sans-serif" fill="#000" stroke="#000" stroke-width="0.2"><text transform="translate(446.7 911.5) scale(1 1.04)" font-size="41.5">Si-28 elastic scattering</text></g>
<path d="M325 969.9H415.2" stroke="#0ee076" stroke-width="3" fill="none"/>
<g font-family="'Liberation Sans', Arial, Helvetica, sans-serif" fill="#000" stroke="#000" stroke-width="0.2"><text transform="translate(446.7 982.7) scale(1 1.04)" font-size="41.5">Si-28 absorption</text></g>
<g font-family="'Liberation Sans', Arial, Helvetica, sans-serif" fill="#000" stroke="#000" stroke-width="0.2">
<text transform="translate(168.0 89.8) scale(1 1.04)" font-size="50" text-anchor="end">10</text><text transform="translate(175.5 54.5) scale(1 1.04)" font-size="40">5</text>
<text transform="translate(168.0 189.7) scale(1 1.04)" font-size="50" text-anchor="end">10</text><text transform="translate(175.5 154.5) scale(1 1.04)" font-size="40">4</text>
<text transform="translate(168.0 289.6) scale(1 1.04)" font-size="50" text-anchor="end">10</text><text transform="translate(175.5 254.4) scale(1 1.04)" font-size="40">3</text>
<text transform="translate(168.0 389.6) scale(1 1.04)" font-size="50" text-anchor="end">10</text><text transform="translate(175.5 354.4) scale(1 1.04)" font-size="40">2</text>
<text transform="translate(168.0 489.6) scale(1 1.04)" font-size="50" text-anchor="end">10</text>
<text transform="translate(173.0 588.5) scale(1 1.04)" font-size="50" text-anchor="end">1</text>
<text transform="translate(163.5 689.5) scale(1 1.04)" font-size="50" text-anchor="end">10</text><text transform="translate(170.0 654.2) scale(1 1.04)" font-size="40">-1</text>
<text transform="translate(158.9 789.4) scale(1 1.04)" font-size="50" text-anchor="end">10</text><text transform="translate(166.0 754.2) scale(1 1.04)" font-size="40">-2</text>
<text transform="translate(158.9 889.4) scale(1 1.04)" font-size="50" text-anchor="end">10</text><text transform="translate(166.0 854.1) scale(1 1.04)" font-size="40">-3</text>
<text transform="translate(158.9 989.3) scale(1 1.04)" font-size="50" text-anchor="end">10</text><text transform="translate(166.0 954.1) scale(1 1.04)" font-size="40">-4</text>
<text transform="translate(158.9 1089.2) scale(1 1.04)" font-size="50" text-anchor="end">10</text><text transform="translate(166.0 1054.0) scale(1 1.04)" font-size="40">-5</text>
<text transform="translate(258.9 1140.5) scale(1 1.04)" font-size="50" text-anchor="middle">-9</text>
<text transform="translate(432.1 1140.5) scale(1 1.04)" font-size="50" text-anchor="middle">-8</text>
<text transform="translate(603.9 1140.5) scale(1 1.04)" font-size="50" text-anchor="middle">-7</text>
<text transform="translate(773.5 1140.5) scale(1 1.04)" font-size="50" text-anchor="middle">-6</text>
<text transform="translate(948.8 1140.5) scale(1 1.04)" font-size="50" text-anchor="middle">-5</text>
<text transform="translate(1118.5 1140.5) scale(1 1.04)" font-size="50" text-anchor="middle">-4</text>
<text transform="translate(1289.3 1140.5) scale(1 1.04)" font-size="50" text-anchor="middle">-3</text>
<text transform="translate(1466.7 1140.5) scale(1 1.04)" font-size="50" text-anchor="middle">-2</text>
<text transform="translate(1641.7 1140.5) scale(1 1.04)" font-size="50" text-anchor="middle">-1</text>
<text transform="translate(1817.1 1140.5) scale(1 1.04)" font-size="50" text-anchor="middle">0</text>
<text transform="translate(1994.4 1140.5) scale(1 1.04)" font-size="50" text-anchor="middle">1</text>
<text transform="translate(2038.0 1232.8) scale(1 1.04)" font-size="49.6" text-anchor="end">Log(Energy/MeV)</text>
<text transform="translate(54.0 14.0) rotate(-90) scale(1 1.04)" font-size="49.85" text-anchor="end">Cross section [barn]</text>
</g>
</svg></body></html>
